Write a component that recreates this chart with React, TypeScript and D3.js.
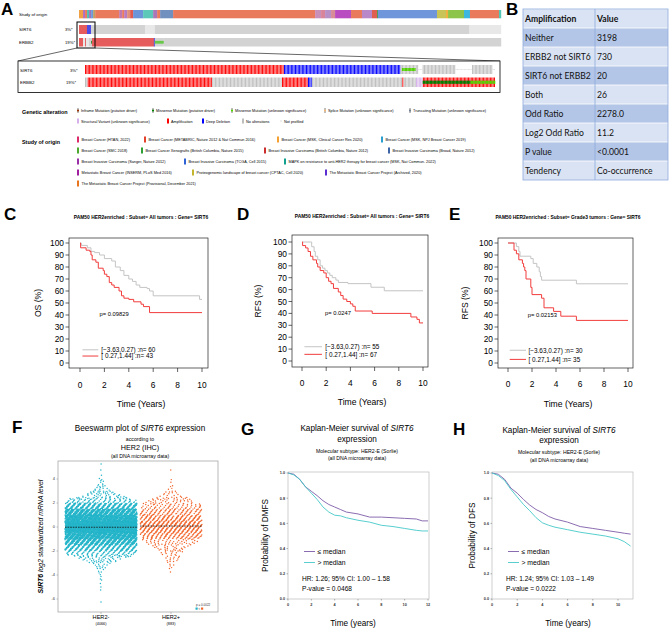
import React, { useMemo } from 'react';
import * as d3 from 'd3';

const SANS = '"Liberation Sans", Arial, Helvetica, sans-serif';

// ---------------- Panel A data ----------------
const studyColors = [
  '#f0a045', '#b070c0', '#e97a5c', '#4cc0b0', '#a070b8', '#6a9ad8', '#c0a060', '#e97a5c',
  '#c07ab0', '#e97a5c', '#b87cc0', '#e0907a', '#e05a50', '#6c94d8', '#5cc8b8', '#a878b8',
  '#e97a5c', '#7090c0', '#e97a5c', '#c890b8', '#d8849a', '#b890c8', '#d88c98', '#b84cc0',
  '#e97a5c', '#b888c8', '#e06050', '#50a050', '#6f96db', '#c8c458', '#f0b040', '#8dc44a',
  '#3cb8e0', '#e97a5c', '#50c8b8',
];
const studyCounts = [
  38, 19, 19, 19, 19, 19, 19, 226, 28, 19, 28, 28, 28, 94, 94, 38, 28, 122, 1335, 56, 38, 56,
  38, 150, 103, 94, 47, 9, 555, 85, 19, 150, 56, 273, 19,
];
const sirt6OverviewTypes = ['amp', 'del', 'none', 'np', 'none', 'np'];
const sirt6OverviewCounts = [75, 38, 508, 94, 2962, 297];
const erbb2OverviewTypes = ['amp', 'np', 'amp', 'np', 'none', 'mis', 'amp', 'del', 'misU', 'none'];
const erbb2OverviewCounts = [38, 19, 9, 28, 19, 9, 583, 9, 85, 3175];
const sirt6DetailTypes = ['amp', 'del', 'none', 'misU', 'none', 'np', 'none', 'np', 'none', 'np'];
const sirt6DetailCounts = [145, 85, 1, 10, 2, 3, 24, 12, 15, 2];
const erbb2DetailTypes = ['none', 'amp', 'none', 'amp', 'del', 'none', 'amp', 'none', 'sv', 'ampMis', 'ampMisU'];
const erbb2DetailCounts = [2, 91, 51, 19, 3, 66, 1, 9, 5, 35, 18];

const galtLabels = [
  'Inframe Mutation (putative driver)', 'Missense Mutation (putative driver)',
  'Missense Mutation (unknown significance)', 'Splice Mutation (unknown significance)',
  'Truncating Mutation (unknown significance)',
  'Structural Variant (unknown significance)', 'Amplification', 'Deep Deletion',
  'No alterations', 'Not profiled',
];
const galtTypes = ['inframe', 'mis', 'misU', 'splice', 'trunc', 'sv', 'amp', 'del', 'none', 'np'];
const galtRow = [0, 0, 0, 0, 0, 1, 1, 1, 1, 1];
const galtX = [77, 152, 231, 324, 409, 77, 167, 202, 242, 280];

const studyLegendLabels = [
  'Breast Cancer (HTAN, 2022)', 'Breast Cancer (METABRIC, Nature 2012 & Nat Commun 2016)',
  'Breast Cancer (MSK, Clinical Cancer Res 2020)', 'Breast Cancer (MSK, NPJ Breast Cancer 2019)',
  'Breast Cancer (SMC 2018)', 'Breast Cancer Xenografts (British Columbia, Nature 2015)',
  'Breast Invasive Carcinoma (British Columbia, Nature 2012)', 'Breast Invasive Carcinoma (Broad, Nature 2012)',
  'Breast Invasive Carcinoma (Sanger, Nature 2012)', 'Breast Invasive Carcinoma (TCGA, Cell 2015)',
  'MAPK on resistance to anti-HER2 therapy for breast cancer (MSK, Nat Commun. 2022)',
  'Metastatic Breast Cancer (INSERM, PLoS Med 2016)', 'Proteogenomic landscape of breast cancer (CPTAC, Cell 2020)',
  'The Metastatic Breast Cancer Project (Archived, 2020)',
  'The Metastatic Breast Cancer Project (Provisional, December 2021)',
];
const studyLegendColors = [
  '#dc2b6a', '#e4412b', '#f5a033', '#2a9fd0', '#4aa82c', '#2e9e36', '#cc2e2e', '#3e64a8',
  '#9a2ea8', '#2f62d4', '#12a08e', '#a01ea0', '#c4b52e', '#5a2ed0', '#e8741c',
];
const studyLegendRow = [0, 0, 0, 0, 1, 1, 1, 1, 2, 2, 2, 3, 3, 3, 4];
const studyLegendX = [77, 144, 277, 381, 77, 141, 264, 388, 77, 184, 284, 77, 192, 325, 77];

// ---------------- Panel B data ----------------
const tableLabels = ['Amplification', 'Neither', 'ERBB2 not SIRT6', 'SIRT6 not ERBB2', 'Both', 'Odd Ratio', 'Log2 Odd Ratio', 'P value', 'Tendency'];
const tableValues = ['Value', '3198', '730', '20', '26', '2278.0', '11.2', '<0.0001', 'Co-occurrence'];

// ---------------- Panels C, D, E data (KM, %) ----------------
const cGreyT = [0, 0.1, 0.6, 0.9, 1.2, 1.6, 2.0, 2.6, 2.9, 3.3, 3.6, 4.0, 4.3, 4.6, 4.9, 5.5, 5.7, 6.0, 9.8, 10];
const cGreyS = [100, 98, 96, 93, 92, 90, 87, 85, 80, 77, 73, 70, 68, 65, 63, 62, 60, 56, 53, 53];
const cRedT = [0, 0.05, 0.5, 0.8, 0.9, 1.0, 1.3, 1.5, 1.9, 2.0, 2.2, 2.4, 2.6, 2.8, 3.2, 3.4, 3.6, 4.0, 4.4, 5.0, 5.2, 5.7, 10];
const cRedS = [100, 96, 94, 93, 90, 86, 84, 79, 77, 74, 72, 67, 65, 63, 60, 56, 54, 53, 51, 49, 47, 42, 42];
const dGreyT = [0, 0.8, 1.0, 1.1, 1.3, 1.5, 1.7, 1.9, 2.1, 2.3, 2.5, 2.8, 3.0, 3.8, 5.7, 6.8, 10];
const dGreyS = [100, 96, 92, 88, 85, 80, 78, 76, 74, 72, 70, 68, 66, 65, 62, 59, 59];
const dRedT = [0, 0.05, 0.3, 0.5, 0.7, 0.9, 1.2, 1.3, 1.5, 1.8, 2.0, 2.2, 2.4, 2.6, 3.0, 3.2, 3.4, 3.7, 4.0, 4.2, 4.4, 5.8, 9.0, 9.5, 9.7, 10];
const dRedS = [100, 97, 95, 92, 88, 85, 82, 79, 76, 74, 70, 67, 65, 61, 58, 55, 52, 50, 48, 46, 42, 40, 37, 35, 32, 32];
const eGreyT = [0, 0.7, 0.9, 1.0, 1.9, 2.1, 2.4, 2.6, 2.7, 2.8, 5.7, 10];
const eGreyS = [100, 97, 93, 89, 87, 83, 80, 76, 72, 69, 66, 66];
const eRedT = [0, 0.5, 0.7, 0.9, 1.2, 1.3, 1.4, 1.5, 1.9, 2.0, 2.8, 3.0, 3.8, 4.4, 5.7, 10];
const eRedS = [100, 94, 91, 86, 83, 80, 77, 70, 63, 57, 54, 46, 43, 39, 35.5, 35.5];
const rTicksY = [0, 10, 20, 30, 40, 50, 60, 70, 80, 90, 100];
const rTicksX = [0, 2, 4, 6, 8, 10];

// ---------------- Panel F data (beeswarm bin counts) ----------------
const beeBinLo = [-6.5, -6, -5.5, -5, -4.5, -4, -3.5, -3, -2.5, -2, -1.5, -1, -0.5, 0, 0.5, 1, 1.5, 2, 2.5, 3, 3.5, 4, 4.5, 5];
const her2NegCounts = [1, 0, 1, 2, 3, 5, 14, 40, 100, 220, 380, 530, 640, 660, 590, 450, 260, 90, 36, 14, 6, 2, 1, 1];
const her2PosCounts = [0, 0, 0, 0, 0, 1, 5, 12, 15, 28, 45, 110, 150, 165, 130, 90, 60, 40, 14, 4, 2, 0, 1, 0];
const beeMedians = [-0.02, 0.08];
const beeTicks = [-6, -4, -2, 0, 2, 4];

// ---------------- Panels G, H data ----------------
const gT = [0, 0.5, 1, 1.5, 2, 2.5, 3, 3.5, 4, 4.5, 5, 6, 7, 8, 9, 10, 11, 11.5, 12];
const gLowS = [1.0, 0.99, 0.95, 0.89, 0.855, 0.82, 0.78, 0.75, 0.73, 0.71, 0.69, 0.675, 0.65, 0.65, 0.645, 0.64, 0.635, 0.62, 0.62];
const gHighS = [1.0, 0.985, 0.95, 0.89, 0.84, 0.79, 0.73, 0.69, 0.665, 0.66, 0.645, 0.625, 0.61, 0.585, 0.575, 0.56, 0.545, 0.54, 0.54];
const hT = [0, 0.5, 1, 1.5, 2, 2.5, 3, 3.5, 4, 4.5, 5, 6, 7, 8, 9, 10, 10.5, 11];
const hLowS = [1.0, 0.99, 0.95, 0.88, 0.84, 0.79, 0.745, 0.71, 0.685, 0.655, 0.635, 0.61, 0.575, 0.56, 0.545, 0.53, 0.522, 0.515];
const hHighS = [1.0, 0.98, 0.94, 0.87, 0.81, 0.75, 0.70, 0.645, 0.605, 0.585, 0.57, 0.55, 0.53, 0.515, 0.5, 0.478, 0.455, 0.42];
const probTicks = [0, 0.2, 0.4, 0.6, 0.8, 1.0];
const gTicksX = [0, 2, 4, 6, 8, 10, 12];
const hTicksX = [0, 2, 4, 6, 8, 10];

// ---------------- helpers ----------------
const ovColor: Record<string, string> = { amp: '#e65c5c', del: '#4d4de6', none: '#d3d3d3', np: '#e8e8e8', mis: '#2e8a2e', misU: '#68c848' };
const altColor: Record<string, string> = { amp: '#ff0000', del: '#0000ff', none: '#bebebe', mis: '#008000', misU: '#53d400', sv: '#d5b0ea', inframe: '#993404', splice: '#f0b87b', trunc: '#708090' };

function Letter({ x, y, t }: { x: number; y: number; t: string }) {
  return <text x={x} y={y} fontSize={17} fontWeight="bold" fontFamily={SANS}>{t}</text>;
}

function OverviewRow({ types, counts, y, h }: { types: string[]; counts: number[]; y: number; h: number }) {
  const total = d3.sum(counts);
  const sx = d3.scaleLinear().domain([0, total]).range([79, 501]);
  let acc = 0;
  const out: any[] = [];
  types.forEach((t, i) => {
    const x0 = sx(acc), x1 = sx(acc + counts[i]);
    acc += counts[i];
    if (t === 'mis' || t === 'misU') {
      out.push(<rect key={i + 'b'} x={x0} y={y} width={x1 - x0} height={h} fill={ovColor.none} />);
      out.push(<rect key={i + 'c'} x={x0} y={y + h / 3} width={x1 - x0} height={h / 3} fill={ovColor[t]} />);
    } else {
      out.push(<rect key={i} x={x0} y={y} width={x1 - x0 + 0.2} height={h} fill={ovColor[t]} />);
    }
  });
  return <g>{out}</g>;
}

function DetailRow({ types, counts, y, h }: { types: string[]; counts: number[]; y: number; h: number }) {
  const cells: string[] = [];
  types.forEach((t, i) => { for (let k = 0; k < counts[i]; k++) cells.push(t); });
  const bx = d3.scaleBand<number>().domain(cells.map((_, i) => i)).range([85, 495]).paddingInner(0.3);
  const w = bx.bandwidth();
  return (
    <g>
      {cells.map((t, i) => {
        const x = bx(i) as number;
        if (t === 'np') return <rect key={i} x={x} y={y + h / 2 - 0.3} width={w} height={0.6} fill="#c8c8c8" />;
        const base = t === 'ampMis' || t === 'ampMisU' ? 'amp' : t === 'mis' || t === 'misU' ? 'none' : t;
        const inner = t === 'ampMis' || t === 'mis' ? altColor.mis : t === 'ampMisU' || t === 'misU' ? altColor.misU : null;
        return (
          <g key={i}>
            <rect x={x} y={y} width={w} height={h} fill={altColor[base]} />
            {inner && <rect x={x - 0.2} y={y + h / 3} width={w + 0.5} height={h / 3} fill={inner} />}
          </g>
        );
      })}
    </g>
  );
}

function PanelA() {
  const total = d3.sum(studyCounts);
  const sx = d3.scaleLinear().domain([0, total]).range([79, 501]);
  let acc = 0;
  const fs = 3.8;
  return (
    <g fontFamily={SANS}>
      <Letter x={1} y={15} t="A" />
      <text x={19} y={16} fontSize={4.4}>Study of origin</text>
      {studyCounts.map((c, i) => {
        const x0 = sx(acc), x1 = sx(acc + c);
        acc += c;
        return <rect key={i} x={x0} y={10} width={x1 - x0 + 0.2} height={8.3} fill={studyColors[i]} />;
      })}
      <text x={19} y={31} fontSize={4.4}>SIRT6</text>
      <text x={65} y={31} fontSize={4.2}>3%*</text>
      <text x={19} y={44} fontSize={4.4}>ERBB2</text>
      <text x={65} y={44} fontSize={4.2}>19%*</text>
      <OverviewRow types={sirt6OverviewTypes} counts={sirt6OverviewCounts} y={25} h={9} />
      <OverviewRow types={erbb2OverviewTypes} counts={erbb2OverviewCounts} y={38} h={8.5} />
      <rect x={77} y={22} width={18} height={26} fill="none" stroke="#000" strokeWidth={1} />
      <line x1={77} y1={48} x2={18} y2={61} stroke="#000" strokeWidth={0.6} />
      <line x1={95} y1={48} x2={500} y2={61} stroke="#000" strokeWidth={0.6} />
      <rect x={18} y={61} width={482} height={31.5} fill="#fff" stroke="#000" strokeWidth={0.8} />
      <text x={20} y={71.5} fontSize={4.4}>SIRT6</text>
      <text x={70} y={71.5} fontSize={4.2}>3%*</text>
      <text x={20} y={84} fontSize={4.4}>ERBB2</text>
      <text x={66} y={84} fontSize={4.2}>19%*</text>
      <DetailRow types={sirt6DetailTypes} counts={sirt6DetailCounts} y={65} h={9} />
      <DetailRow types={erbb2DetailTypes} counts={erbb2DetailCounts} y={77.5} h={9.5} />
      {/* legends */}
      <text x={22} y={114} fontSize={5.4} fontWeight="bold">Genetic alteration</text>
      {galtLabels.map((lab, i) => {
        const x = galtX[i];
        const y = galtRow[i] === 0 ? 108 : 118.5;
        const t = galtTypes[i];
        let sw;
        if (t === 'np') sw = <rect x={x} y={y + 2.2} width={2} height={0.6} fill="#c8c8c8" />;
        else if (t === 'amp' || t === 'del' || t === 'none' || t === 'sv') sw = <rect x={x} y={y} width={2} height={5} fill={altColor[t]} />;
        else sw = (
          <g>
            <rect x={x} y={y} width={2} height={5} fill={altColor.none} />
            <rect x={x} y={y + 1.7} width={2} height={1.7} fill={altColor[t]} />
          </g>
        );
        return (
          <g key={i}>
            {sw}
            <text x={x + 4} y={y + 4} fontSize={fs}>{lab}</text>
          </g>
        );
      })}
      <text x={22} y={144} fontSize={5.4} fontWeight="bold">Study of origin</text>
      {studyLegendLabels.map((lab, i) => {
        const x = studyLegendX[i];
        const y = 136.5 + studyLegendRow[i] * 11;
        return (
          <g key={i}>
            <rect x={x} y={y} width={2} height={6} fill={studyLegendColors[i]} />
            <text x={x + 4.5} y={y + 4.6} fontSize={fs}>{lab}</text>
          </g>
        );
      })}
    </g>
  );
}

function PanelB() {
  const x0 = 523, xm = 595, x1 = 668, y0 = 9, rh = 19;
  const ys = d3.scaleBand<number>().domain(tableLabels.map((_, i) => i)).range([y0, y0 + rh * tableLabels.length]);
  return (
    <g fontFamily='Lato, "Open Sans", sans-serif'>
      <Letter x={506} y={15} t="B" />
      {tableLabels.map((lab, i) => {
        const y = ys(i) as number;
        const fill = i % 2 === 0 ? '#dae3f3' : '#b4c6e7';
        const fw = i === 0 ? 'bold' : 'normal';
        return (
          <g key={i}>
            <rect x={x0} y={y} width={x1 - x0} height={rh} fill={fill} />
            <line x1={x0} x2={x1} y1={y} y2={y} stroke="#ffffff" strokeWidth={0.8} />
            <text x={x0 + 2} y={y + rh / 2 + 3.2} fontSize={8.6} fontWeight={fw} fill="#111">{lab}</text>
            <text x={xm + 2} y={y + rh / 2 + 3.2} fontSize={8.6} fontWeight={fw} fill="#111">{tableValues[i]}</text>
          </g>
        );
      })}
      <line x1={xm} x2={xm} y1={y0} y2={y0 + rh * tableLabels.length} stroke="#8eaadb" strokeWidth={0.8} />
      <rect x={x0} y={y0} width={x1 - x0} height={rh * tableLabels.length} fill="none" stroke="#8eaadb" strokeWidth={0.8} />
    </g>
  );
}

type RKMProps = {
  letter: string; letterX: number; title: string; titleX: number; titleY: number;
  box: number[]; xr: number[]; yr: number[]; ylab: string; ylabX: number;
  gT: number[]; gS: number[]; rT: number[]; rS: number[];
  pText: string; pAt: number[]; legY: number[]; legX: number[]; legText: string[];
  tickLabY: number; xlabX: number; xlabY: number;
};

function RKM(p: RKMProps) {
  const [l, t, r, b] = p.box;
  const x = d3.scaleLinear().domain([0, 10]).range(p.xr);
  const y = d3.scaleLinear().domain([0, 100]).range(p.yr);
  const line = d3.line<number[]>().x(d => x(d[0])).y(d => y(d[1])).curve(d3.curveStepAfter);
  const g = line(p.gT.map((tt, i) => [tt, p.gS[i]])) as string;
  const rr = line(p.rT.map((tt, i) => [tt, p.rS[i]])) as string;
  const grey = '#c4c4c4', red = '#f23c3c';
  return (
    <g fontFamily={SANS}>
      <Letter x={p.letterX} y={220} t={p.letter} />
      <text x={p.titleX} y={p.titleY} fontSize={4.9} fontWeight="bold" textAnchor="middle">{p.title}</text>
      <rect x={l} y={t} width={r - l} height={b - t} fill="none" stroke="#222" strokeWidth={0.7} />
      {rTicksY.map(v => (
        <g key={v}>
          <line x1={l - 3.5} x2={l} y1={y(v)} y2={y(v)} stroke="#222" strokeWidth={0.7} />
          <text x={l - 5} y={y(v) + 3} fontSize={8.4} textAnchor="end">{v}</text>
        </g>
      ))}
      {rTicksX.map(v => (
        <g key={v}>
          <line x1={x(v)} x2={x(v)} y1={b} y2={b + 4} stroke="#222" strokeWidth={0.7} />
          <text x={x(v)} y={p.tickLabY} fontSize={8.4} textAnchor="middle">{v}</text>
        </g>
      ))}
      <text transform={`translate(${p.ylabX},${(t + b) / 2}) rotate(-90)`} fontSize={8.6} textAnchor="middle">{p.ylab}</text>
      <text x={p.xlabX} y={p.xlabY} fontSize={8.6} textAnchor="middle">Time (Years)</text>
      <path d={g} fill="none" stroke={grey} strokeWidth={1} />
      <path d={rr} fill="none" stroke={red} strokeWidth={1} />
      <text x={x(p.pAt[0])} y={y(p.pAt[1]) + 2} fontSize={5.8}>{p.pText}</text>
      <line x1={x(p.legX[0])} x2={x(p.legX[1])} y1={y(p.legY[0])} y2={y(p.legY[0])} stroke={grey} strokeWidth={1} />
      <line x1={x(p.legX[0])} x2={x(p.legX[1])} y1={y(p.legY[1])} y2={y(p.legY[1])} stroke={red} strokeWidth={1} />
      <text x={x(p.legX[2])} y={y(p.legY[0]) + 2.3} fontSize={6.4}>{p.legText[0]}</text>
      <text x={x(p.legX[2])} y={y(p.legY[1]) + 2.3} fontSize={6.4}>{p.legText[1]}</text>
    </g>
  );
}

// Deterministic beeswarm layout: each bin's points are spread over the bin height and
// over a width that grows with the bin count (low-discrepancy placement, no randomness).
function swarm(counts: number[], cx: number, maxHalf: number, perPt: number, ys: (v: number) => number) {
  const binW = 0.5;
  const centers = beeBinLo.map(e => e + binW / 2);
  const halfW = counts.map(n => Math.min(maxHalf, n * perPt));
  const hw = d3.scaleLinear().domain(centers).range(halfW).clamp(true);
  const pts: number[][] = [];
  counts.forEach((n, k) => {
    for (let j = 0; j < n; j++) {
      const u = (0.5 + j * 0.7548776662 + k * 0.31) % 1;
      const w = n === 1 ? 0.5 : (0.5 + j * 0.5698402910 + k * 0.17) % 1;
      const v = beeBinLo[k] + binW * w;
      pts.push([cx + (2 * u - 1) * hw(v), ys(v)]);
    }
  });
  return pts;
}

function PanelF() {
  const l = 58, t = 461, r = 218, b = 612;
  const ys = d3.scaleLinear().domain([-6, 4]).range([599, 479]);
  const cNeg = 101, cPos = 171;
  const neg = useMemo(() => swarm(her2NegCounts, cNeg, 36, 0.45, ys), []);
  const pos = useMemo(() => swarm(her2PosCounts, cPos, 31, 0.6, ys), []);
  const cyan = '#20b3c8', orange = '#f2652a';
  return (
    <g fontFamily={SANS}>
      <Letter x={12} y={433} t="F" />
      <text x={140} y={431} fontSize={8.2} textAnchor="middle">Beeswarm plot of <tspan fontStyle="italic">SIRT6</tspan> expression</text>
      <text x={140} y={441} fontSize={5.2} textAnchor="middle">according to</text>
      <text x={140} y={450} fontSize={7.2} textAnchor="middle">HER2 (IHC)</text>
      <text x={140} y={457.5} fontSize={5.2} textAnchor="middle">(all DNA microarray data)</text>
      <rect x={l} y={t} width={r - l} height={b - t} fill="#fff" stroke="#a8a8a8" strokeWidth={0.8} />
      {beeTicks.map(v => (
        <g key={v}>
          <line x1={l - 1.5} x2={l} y1={ys(v)} y2={ys(v)} stroke="#888" strokeWidth={0.5} />
          <text x={l - 3} y={ys(v) + 1.4} fontSize={4} textAnchor="end" fill="#333">{v}</text>
        </g>
      ))}
      {neg.map((d, i) => <circle key={'n' + i} cx={d[0]} cy={d[1]} r={0.72} fill={cyan} />)}
      {pos.map((d, i) => <circle key={'p' + i} cx={d[0]} cy={d[1]} r={0.72} fill={orange} />)}
      <line x1={cNeg - 36} x2={cNeg + 36} y1={ys(beeMedians[0])} y2={ys(beeMedians[0])} stroke="#111" strokeWidth={0.8} strokeDasharray="1.6,1" />
      <line x1={cPos - 31} x2={cPos + 31} y1={ys(beeMedians[1])} y2={ys(beeMedians[1])} stroke="#111" strokeWidth={0.8} strokeDasharray="1.6,1" />
      {[cNeg, cPos].map(c => <line key={c} x1={c} x2={c} y1={b} y2={b + 2} stroke="#888" strokeWidth={0.5} />)}
      <text x={cNeg} y={618.5} fontSize={5.6} textAnchor="middle">HER2-</text>
      <text x={cNeg} y={625} fontSize={3.8} textAnchor="middle">(4066)</text>
      <text x={cPos} y={618.5} fontSize={5.6} textAnchor="middle">HER2+</text>
      <text x={cPos} y={625} fontSize={3.8} textAnchor="middle">(883)</text>
      <text x={196} y={606} fontSize={3} fill="#333">p = 0.0022</text>
      <rect x={195.5} y={607.5} width={2.2} height={2.2} fill={cyan} />
      <text x={198.6} y={609.7} fontSize={2.8} fill="#333">{'<'}</text>
      <rect x={201} y={607.5} width={2.2} height={2.2} fill={orange} />
      <text transform={`translate(43,${(t + b) / 2}) rotate(-90)`} fontSize={6.9} textAnchor="middle" fontStyle="italic">
        <tspan fontWeight="bold">SIRT6</tspan> log2 standardized mRNA level
      </text>
    </g>
  );
}

type GKMProps = {
  letter: string; letterX: number; titleCX: number; titleY: number; box: number[]; xMax: number; xr: number[];
  ticksX: number[]; ylab: string; ylabX: number; T: number[]; low: number[]; high: number[];
  hr: string; pv: string; legX: number; xlabX: number;
};

function GKM(p: GKMProps) {
  const [l, t, r, b] = p.box;
  const x = d3.scaleLinear().domain([0, p.xMax]).range(p.xr);
  const y = d3.scaleLinear().domain([0, 1]).range([599, 473]);
  const line = d3.line<number[]>().x(d => x(d[0])).y(d => y(d[1]));
  const purple = '#7d5ca8', cyan = '#45c8c8';
  return (
    <g fontFamily={SANS}>
      <Letter x={p.letterX} y={435} t={p.letter} />
      <text x={p.titleCX} y={p.titleY} fontSize={8.2} textAnchor="middle">Kaplan-Meier survival of <tspan fontStyle="italic">SIRT6</tspan></text>
      <text x={p.titleCX} y={p.titleY + 10.5} fontSize={8.2} textAnchor="middle">expression</text>
      <text x={p.titleCX} y={p.titleY + 21.5} fontSize={5.2} textAnchor="middle">Molecular subtype: HER2-E (Sorlie)</text>
      <text x={p.titleCX} y={p.titleY + 29} fontSize={5.2} textAnchor="middle">(all DNA microarray data)</text>
      <rect x={l} y={t} width={r - l} height={b - t} fill="none" stroke="#b0b0b0" strokeWidth={0.6} />
      {probTicks.map(v => (
        <g key={v}>
          <line x1={l - 1.5} x2={l} y1={y(v)} y2={y(v)} stroke="#666" strokeWidth={0.5} />
          <text x={l - 3} y={y(v) + 1.4} fontSize={3.8} fontWeight="bold" textAnchor="end" fill="#333">{v.toFixed(1)}</text>
        </g>
      ))}
      {p.ticksX.map(v => (
        <g key={v}>
          <line x1={x(v)} x2={x(v)} y1={b} y2={b + 1.5} stroke="#666" strokeWidth={0.5} />
          <text x={x(v)} y={605.5} fontSize={3.8} fontWeight="bold" textAnchor="middle" fill="#333">{v}</text>
        </g>
      ))}
      <path d={line(p.T.map((tt, i) => [tt, p.low[i]])) as string} fill="none" stroke={purple} strokeWidth={0.9} />
      <path d={line(p.T.map((tt, i) => [tt, p.high[i]])) as string} fill="none" stroke={cyan} strokeWidth={0.9} />
      <line x1={p.legX} x2={p.legX + 11} y1={551.5} y2={551.5} stroke={purple} strokeWidth={0.9} />
      <line x1={p.legX} x2={p.legX + 11} y1={562.5} y2={562.5} stroke={cyan} strokeWidth={0.9} />
      <text x={p.legX + 13.5} y={554} fontSize={6.8}>≤ median</text>
      <text x={p.legX + 13.5} y={565} fontSize={6.8}>&gt; median</text>
      <text x={p.legX - 2} y={580.5} fontSize={6.6}>{p.hr}</text>
      <text x={p.legX - 2} y={590.5} fontSize={6.6}>{p.pv}</text>
      <text transform={`translate(${p.ylabX},${(t + b) / 2}) rotate(-90)`} fontSize={8.2} textAnchor="middle">{p.ylab}</text>
      <text x={p.xlabX} y={625.5} fontSize={8.2} textAnchor="middle">Time (years)</text>
    </g>
  );
}

export default function App() {
  return (
    <svg width={669} height={632} style={{ position: 'absolute', left: 0, top: 0, background: '#fff' }}>
      <rect width={669} height={632} fill="#fff" />
      <PanelA />
      <PanelB />
      <RKM letter="C" letterX={4} title="PAM50 HER2enriched : Subset= All tumors : Gene= SIRT6" titleX={141} titleY={218.5}
        box={[69, 238, 208, 368]} xr={[80, 202]} yr={[363, 243]} ylab="OS (%)" ylabX={41}
        gT={cGreyT} gS={cGreyS} rT={cRedT} rS={cRedS} pText="p= 0.09829" pAt={[1.6, 40.7]}
        legY={[11, 5.8]} legX={[0.2, 1.5, 1.75]} legText={['[−3.63,0.27) :n= 60', '[ 0.27,1.44] :n= 43']}
        tickLabY={387.5} xlabX={141} xlabY={407} />
      <RKM letter="D" letterX={237} title="PAM50 HER2enriched : Subset= All tumors : Gene= SIRT6" titleX={362} titleY={217.7}
        box={[292, 235, 428, 367]} xr={[302, 423]} yr={[361, 242]} ylab="RFS (%)" ylabX={261}
        gT={dGreyT} gS={dGreyS} rT={dRedT} rS={dRedS} pText="p= 0.0247" pAt={[1.9, 40]}
        legY={[12, 5.6]} legX={[0.2, 1.65, 1.93]} legText={['[−3.63,0.27) :n= 55', '[ 0.27,1.44] :n= 67']}
        tickLabY={385.5} xlabX={362} xlabY={405} />
      <RKM letter="E" letterX={449} title="PAM50 HER2enriched : Subset= Grade3 tumors : Gene= SIRT6" titleX={568} titleY={219}
        box={[498, 238, 633, 368]} xr={[508, 628]} yr={[363, 243]} ylab="RFS (%)" ylabX={468}
        gT={eGreyT} gS={eGreyS} rT={eRedT} rS={eRedS} pText="p= 0.02153" pAt={[1.65, 40]}
        legY={[10.6, 3]} legX={[0.14, 1.5, 1.71]} legText={['[−3.63,0.27) :n= 30', '[ 0.27,1.44] :n= 35']}
        tickLabY={387} xlabX={568} xlabY={407} />
      <PanelF />
      <GKM letter="G" letterX={241} titleCX={357} titleY={431} box={[288, 472, 429, 599]} xMax={12} xr={[288, 428]}
        ticksX={gTicksX} ylab="Probability of DMFS" ylabX={268} T={gT} low={gLowS} high={gHighS}
        hr="HR: 1.26; 95% CI: 1.00 – 1.58" pv="P-value = 0.0468" legX={304} xlabX={353} />
      <GKM letter="H" letterX={453} titleCX={559} titleY={432.5} box={[492, 472, 633, 599]} xMax={10} xr={[492, 618]}
        ticksX={hTicksX} ylab="Probability of DFS" ylabX={475} T={hT} low={hLowS} high={hHighS}
        hr="HR: 1.24; 95% CI: 1.03 – 1.49" pv="P-value = 0.0222" legX={508} xlabX={568} />
    </svg>
  );
}
